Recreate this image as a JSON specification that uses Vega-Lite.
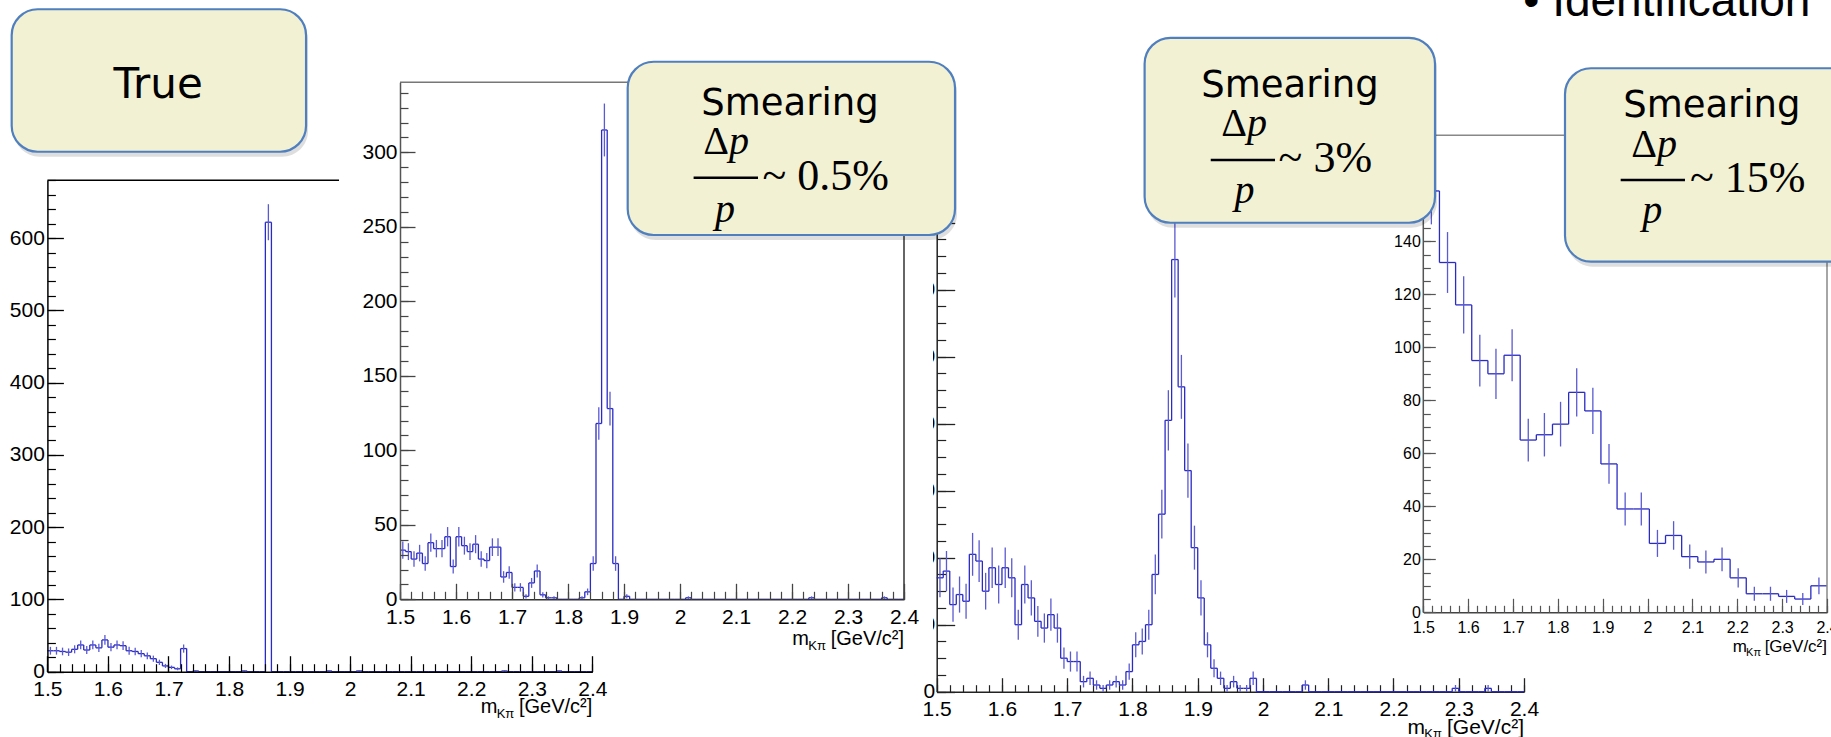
{
"$schema":"https://vega.github.io/schema/vega-lite/v6.json",
"width":1831,"height":737,"autosize":{"type":"none"},"padding":0,"background":"white",
"config":{"view":{"stroke":null},"axis":{"grid":false,"labelFlush":false,"labelOverlap":false,"labelBound":false,"labelFont":"Liberation Sans","labelColor":"#000"},"text":{"font":"Liberation Sans","color":"#000"}},
"datasets":{
"t":[
{"lo":1.5,"hi":1.51,"c":1.505,"n":29,"e":5.39},{"lo":1.51,"hi":1.52,"c":1.515,"n":29,"e":5.39},{"lo":1.52,"hi":1.53,"c":1.525,"n":28,"e":5.29},{"lo":1.53,"hi":1.54,"c":1.535,"n":27,"e":5.2},{"lo":1.54,"hi":1.55,"c":1.545,"n":31,"e":5.57},{"lo":1.55,"hi":1.56,"c":1.555,"n":37,"e":6.08},{"lo":1.56,"hi":1.57,"c":1.565,"n":30,"e":5.48},{"lo":1.57,"hi":1.58,"c":1.575,"n":37,"e":6.08},{"lo":1.58,"hi":1.59,"c":1.585,"n":33,"e":5.74},{"lo":1.59,"hi":1.6,"c":1.595,"n":44,"e":6.63},
{"lo":1.6,"hi":1.61,"c":1.605,"n":34,"e":5.83},{"lo":1.61,"hi":1.62,"c":1.615,"n":37,"e":6.08},{"lo":1.62,"hi":1.63,"c":1.625,"n":36,"e":6},{"lo":1.63,"hi":1.64,"c":1.635,"n":29,"e":5.39},{"lo":1.64,"hi":1.65,"c":1.645,"n":28,"e":5.29},{"lo":1.65,"hi":1.66,"c":1.655,"n":25,"e":5},{"lo":1.66,"hi":1.67,"c":1.665,"n":22,"e":4.69},{"lo":1.67,"hi":1.68,"c":1.675,"n":18,"e":4.24},{"lo":1.68,"hi":1.69,"c":1.685,"n":13,"e":3.61},{"lo":1.69,"hi":1.7,"c":1.695,"n":8,"e":2.83},
{"lo":1.7,"hi":1.71,"c":1.705,"n":6,"e":2.45},{"lo":1.71,"hi":1.72,"c":1.715,"n":4,"e":2},{"lo":1.72,"hi":1.73,"c":1.725,"n":32,"e":5.66},{"lo":1.73,"hi":1.74,"n":0},{"lo":1.74,"hi":1.75,"c":1.745,"n":1,"e":1},{"lo":1.75,"hi":1.76,"n":0},{"lo":1.76,"hi":1.77,"n":0},{"lo":1.77,"hi":1.78,"n":0},{"lo":1.78,"hi":1.79,"n":0},{"lo":1.79,"hi":1.8,"n":0},
{"lo":1.8,"hi":1.81,"n":0},{"lo":1.81,"hi":1.82,"n":0},{"lo":1.82,"hi":1.83,"c":1.825,"n":1,"e":1},{"lo":1.83,"hi":1.84,"n":0},{"lo":1.84,"hi":1.85,"n":0},{"lo":1.85,"hi":1.86,"n":0},{"lo":1.86,"hi":1.87,"c":1.865,"n":622,"e":24.94},{"lo":1.87,"hi":1.88,"n":0},{"lo":1.88,"hi":1.89,"n":0},{"lo":1.89,"hi":1.9,"n":0},
{"lo":1.9,"hi":1.91,"n":0},{"lo":1.91,"hi":1.92,"n":0},{"lo":1.92,"hi":1.93,"n":0},{"lo":1.93,"hi":1.94,"n":0},{"lo":1.94,"hi":1.95,"n":0},{"lo":1.95,"hi":1.96,"n":0},{"lo":1.96,"hi":1.97,"c":1.965,"n":1,"e":1},{"lo":1.97,"hi":1.98,"n":0},{"lo":1.98,"hi":1.99,"n":0},{"lo":1.99,"hi":2,"n":0},
{"lo":2,"hi":2.01,"n":0},{"lo":2.01,"hi":2.02,"c":2.015,"n":1,"e":1},{"lo":2.02,"hi":2.03,"n":0},{"lo":2.03,"hi":2.04,"n":0},{"lo":2.04,"hi":2.05,"n":0},{"lo":2.05,"hi":2.06,"n":0},{"lo":2.06,"hi":2.07,"n":0},{"lo":2.07,"hi":2.08,"n":0},{"lo":2.08,"hi":2.09,"n":0},{"lo":2.09,"hi":2.1,"n":0},
{"lo":2.1,"hi":2.11,"n":0},{"lo":2.11,"hi":2.12,"n":0},{"lo":2.12,"hi":2.13,"n":0},{"lo":2.13,"hi":2.14,"n":0},{"lo":2.14,"hi":2.15,"n":0},{"lo":2.15,"hi":2.16,"n":0},{"lo":2.16,"hi":2.17,"n":0},{"lo":2.17,"hi":2.18,"n":0},{"lo":2.18,"hi":2.19,"n":0},{"lo":2.19,"hi":2.2,"n":0},
{"lo":2.2,"hi":2.21,"n":0},{"lo":2.21,"hi":2.22,"n":0},{"lo":2.22,"hi":2.23,"n":0},{"lo":2.23,"hi":2.24,"n":0},{"lo":2.24,"hi":2.25,"n":0},{"lo":2.25,"hi":2.26,"c":2.255,"n":1,"e":1},{"lo":2.26,"hi":2.27,"n":0},{"lo":2.27,"hi":2.28,"n":0},{"lo":2.28,"hi":2.29,"n":0},{"lo":2.29,"hi":2.3,"n":0},
{"lo":2.3,"hi":2.31,"n":0},{"lo":2.31,"hi":2.32,"n":0},{"lo":2.32,"hi":2.33,"n":0},{"lo":2.33,"hi":2.34,"n":0},{"lo":2.34,"hi":2.35,"c":2.345,"n":1,"e":1},{"lo":2.35,"hi":2.36,"n":0},{"lo":2.36,"hi":2.37,"n":0},{"lo":2.37,"hi":2.38,"n":0},{"lo":2.38,"hi":2.39,"n":0},{"lo":2.39,"hi":2.4,"n":0}
],
"a":[
{"lo":1.5,"hi":1.51,"c":1.505,"n":33,"e":5.74},{"lo":1.51,"hi":1.52,"c":1.515,"n":32,"e":5.66},{"lo":1.52,"hi":1.53,"c":1.525,"n":27,"e":5.2},{"lo":1.53,"hi":1.54,"c":1.535,"n":31,"e":5.57},{"lo":1.54,"hi":1.55,"c":1.545,"n":24,"e":4.9},{"lo":1.55,"hi":1.56,"c":1.555,"n":38,"e":6.16},{"lo":1.56,"hi":1.57,"c":1.565,"n":34,"e":5.83},{"lo":1.57,"hi":1.58,"c":1.575,"n":34,"e":5.83},{"lo":1.58,"hi":1.59,"c":1.585,"n":42,"e":6.48},{"lo":1.59,"hi":1.6,"c":1.595,"n":22,"e":4.69},
{"lo":1.6,"hi":1.61,"c":1.605,"n":42,"e":6.48},{"lo":1.61,"hi":1.62,"c":1.615,"n":36,"e":6},{"lo":1.62,"hi":1.63,"c":1.625,"n":32,"e":5.66},{"lo":1.63,"hi":1.64,"c":1.635,"n":37,"e":6.08},{"lo":1.64,"hi":1.65,"c":1.645,"n":27,"e":5.2},{"lo":1.65,"hi":1.66,"c":1.655,"n":26,"e":5.1},{"lo":1.66,"hi":1.67,"c":1.665,"n":35,"e":5.92},{"lo":1.67,"hi":1.68,"c":1.675,"n":35,"e":5.92},{"lo":1.68,"hi":1.69,"c":1.685,"n":15,"e":3.87},{"lo":1.69,"hi":1.7,"c":1.695,"n":18,"e":4.24},
{"lo":1.7,"hi":1.71,"c":1.705,"n":8,"e":2.83},{"lo":1.71,"hi":1.72,"c":1.715,"n":8,"e":2.83},{"lo":1.72,"hi":1.73,"c":1.725,"n":2,"e":1.41},{"lo":1.73,"hi":1.74,"c":1.735,"n":11,"e":3.32},{"lo":1.74,"hi":1.75,"c":1.745,"n":19,"e":4.36},{"lo":1.75,"hi":1.76,"c":1.755,"n":3,"e":1.73},{"lo":1.76,"hi":1.77,"c":1.765,"n":1,"e":1},{"lo":1.77,"hi":1.78,"c":1.775,"n":1,"e":1},{"lo":1.78,"hi":1.79,"n":0},{"lo":1.79,"hi":1.8,"n":0},
{"lo":1.8,"hi":1.81,"n":0},{"lo":1.81,"hi":1.82,"n":0},{"lo":1.82,"hi":1.83,"c":1.825,"n":1,"e":1},{"lo":1.83,"hi":1.84,"c":1.835,"n":5,"e":2.24},{"lo":1.84,"hi":1.85,"c":1.845,"n":24,"e":4.9},{"lo":1.85,"hi":1.86,"c":1.855,"n":118,"e":10.86},{"lo":1.86,"hi":1.87,"c":1.865,"n":315,"e":17.75},{"lo":1.87,"hi":1.88,"c":1.875,"n":128,"e":11.31},{"lo":1.88,"hi":1.89,"c":1.885,"n":24,"e":4.9},{"lo":1.89,"hi":1.9,"n":0},
{"lo":1.9,"hi":1.91,"c":1.905,"n":2,"e":1.41},{"lo":1.91,"hi":1.92,"n":0},{"lo":1.92,"hi":1.93,"n":0},{"lo":1.93,"hi":1.94,"n":0},{"lo":1.94,"hi":1.95,"n":0},{"lo":1.95,"hi":1.96,"n":0},{"lo":1.96,"hi":1.97,"n":0},{"lo":1.97,"hi":1.98,"n":0},{"lo":1.98,"hi":1.99,"n":0},{"lo":1.99,"hi":2,"n":0},
{"lo":2,"hi":2.01,"n":0},{"lo":2.01,"hi":2.02,"c":2.015,"n":1,"e":1},{"lo":2.02,"hi":2.03,"n":0},{"lo":2.03,"hi":2.04,"n":0},{"lo":2.04,"hi":2.05,"n":0},{"lo":2.05,"hi":2.06,"n":0},{"lo":2.06,"hi":2.07,"n":0},{"lo":2.07,"hi":2.08,"n":0},{"lo":2.08,"hi":2.09,"n":0},{"lo":2.09,"hi":2.1,"n":0},
{"lo":2.1,"hi":2.11,"n":0},{"lo":2.11,"hi":2.12,"n":0},{"lo":2.12,"hi":2.13,"n":0},{"lo":2.13,"hi":2.14,"n":0},{"lo":2.14,"hi":2.15,"n":0},{"lo":2.15,"hi":2.16,"n":0},{"lo":2.16,"hi":2.17,"n":0},{"lo":2.17,"hi":2.18,"n":0},{"lo":2.18,"hi":2.19,"n":0},{"lo":2.19,"hi":2.2,"n":0},
{"lo":2.2,"hi":2.21,"n":0},{"lo":2.21,"hi":2.22,"n":0},{"lo":2.22,"hi":2.23,"n":0},{"lo":2.23,"hi":2.24,"c":2.235,"n":1,"e":1},{"lo":2.24,"hi":2.25,"n":0},{"lo":2.25,"hi":2.26,"n":0},{"lo":2.26,"hi":2.27,"n":0},{"lo":2.27,"hi":2.28,"n":0},{"lo":2.28,"hi":2.29,"n":0},{"lo":2.29,"hi":2.3,"n":0},
{"lo":2.3,"hi":2.31,"n":0},{"lo":2.31,"hi":2.32,"n":0},{"lo":2.32,"hi":2.33,"n":0},{"lo":2.33,"hi":2.34,"n":0},{"lo":2.34,"hi":2.35,"n":0},{"lo":2.35,"hi":2.36,"n":0},{"lo":2.36,"hi":2.37,"c":2.365,"n":1,"e":1},{"lo":2.37,"hi":2.38,"n":0},{"lo":2.38,"hi":2.39,"n":0},{"lo":2.39,"hi":2.4,"n":0}
],
"b":[
{"lo":1.5,"hi":1.51,"c":1.505,"n":34,"e":5.83},{"lo":1.51,"hi":1.52,"c":1.515,"n":36,"e":6},{"lo":1.52,"hi":1.53,"c":1.525,"n":26,"e":5.1},{"lo":1.53,"hi":1.54,"c":1.535,"n":29,"e":5.39},{"lo":1.54,"hi":1.55,"c":1.545,"n":27,"e":5.2},{"lo":1.55,"hi":1.56,"c":1.555,"n":41,"e":6.4},{"lo":1.56,"hi":1.57,"c":1.565,"n":39,"e":6.24},{"lo":1.57,"hi":1.58,"c":1.575,"n":30,"e":5.48},{"lo":1.58,"hi":1.59,"c":1.585,"n":37,"e":6.08},{"lo":1.59,"hi":1.6,"c":1.595,"n":32,"e":5.66},
{"lo":1.6,"hi":1.61,"c":1.605,"n":37,"e":6.08},{"lo":1.61,"hi":1.62,"c":1.615,"n":34,"e":5.83},{"lo":1.62,"hi":1.63,"c":1.625,"n":20,"e":4.47},{"lo":1.63,"hi":1.64,"c":1.635,"n":32,"e":5.66},{"lo":1.64,"hi":1.65,"c":1.645,"n":28,"e":5.29},{"lo":1.65,"hi":1.66,"c":1.655,"n":21,"e":4.58},{"lo":1.66,"hi":1.67,"c":1.665,"n":19,"e":4.36},{"lo":1.67,"hi":1.68,"c":1.675,"n":23,"e":4.8},{"lo":1.68,"hi":1.69,"c":1.685,"n":19,"e":4.36},{"lo":1.69,"hi":1.7,"c":1.695,"n":10,"e":3.16},
{"lo":1.7,"hi":1.71,"c":1.705,"n":9,"e":3},{"lo":1.71,"hi":1.72,"c":1.715,"n":9,"e":3},{"lo":1.72,"hi":1.73,"c":1.725,"n":3,"e":1.73},{"lo":1.73,"hi":1.74,"c":1.735,"n":4,"e":2},{"lo":1.74,"hi":1.75,"c":1.745,"n":2,"e":1.41},{"lo":1.75,"hi":1.76,"c":1.755,"n":1,"e":1},{"lo":1.76,"hi":1.77,"c":1.765,"n":2,"e":1.41},{"lo":1.77,"hi":1.78,"c":1.775,"n":3,"e":1.73},{"lo":1.78,"hi":1.79,"c":1.785,"n":2,"e":1.41},{"lo":1.79,"hi":1.8,"c":1.795,"n":6,"e":2.45},
{"lo":1.8,"hi":1.81,"c":1.805,"n":14,"e":3.74},{"lo":1.81,"hi":1.82,"c":1.815,"n":15,"e":3.87},{"lo":1.82,"hi":1.83,"c":1.825,"n":20,"e":4.47},{"lo":1.83,"hi":1.84,"c":1.835,"n":35,"e":5.92},{"lo":1.84,"hi":1.85,"c":1.845,"n":53,"e":7.28},{"lo":1.85,"hi":1.86,"c":1.855,"n":81,"e":9},{"lo":1.86,"hi":1.87,"c":1.865,"n":129,"e":11.36},{"lo":1.87,"hi":1.88,"c":1.875,"n":91,"e":9.54},{"lo":1.88,"hi":1.89,"c":1.885,"n":66,"e":8.12},{"lo":1.89,"hi":1.9,"c":1.895,"n":43,"e":6.56},
{"lo":1.9,"hi":1.91,"c":1.905,"n":28,"e":5.29},{"lo":1.91,"hi":1.92,"c":1.915,"n":14,"e":3.74},{"lo":1.92,"hi":1.93,"c":1.925,"n":7,"e":2.65},{"lo":1.93,"hi":1.94,"c":1.935,"n":4,"e":2},{"lo":1.94,"hi":1.95,"c":1.945,"n":1,"e":1},{"lo":1.95,"hi":1.96,"c":1.955,"n":3,"e":1.73},{"lo":1.96,"hi":1.97,"c":1.965,"n":1,"e":1},{"lo":1.97,"hi":1.98,"c":1.975,"n":1,"e":1},{"lo":1.98,"hi":1.99,"c":1.985,"n":4,"e":2},{"lo":1.99,"hi":2,"n":0},
{"lo":2,"hi":2.01,"n":0},{"lo":2.01,"hi":2.02,"n":0},{"lo":2.02,"hi":2.03,"n":0},{"lo":2.03,"hi":2.04,"n":0},{"lo":2.04,"hi":2.05,"n":0},{"lo":2.05,"hi":2.06,"n":0},{"lo":2.06,"hi":2.07,"c":2.065,"n":2,"e":1.41},{"lo":2.07,"hi":2.08,"n":0},{"lo":2.08,"hi":2.09,"n":0},{"lo":2.09,"hi":2.1,"n":0},
{"lo":2.1,"hi":2.11,"n":0},{"lo":2.11,"hi":2.12,"n":0},{"lo":2.12,"hi":2.13,"n":0},{"lo":2.13,"hi":2.14,"n":0},{"lo":2.14,"hi":2.15,"n":0},{"lo":2.15,"hi":2.16,"n":0},{"lo":2.16,"hi":2.17,"n":0},{"lo":2.17,"hi":2.18,"n":0},{"lo":2.18,"hi":2.19,"n":0},{"lo":2.19,"hi":2.2,"n":0},
{"lo":2.2,"hi":2.21,"n":0},{"lo":2.21,"hi":2.22,"n":0},{"lo":2.22,"hi":2.23,"n":0},{"lo":2.23,"hi":2.24,"n":0},{"lo":2.24,"hi":2.25,"n":0},{"lo":2.25,"hi":2.26,"n":0},{"lo":2.26,"hi":2.27,"n":0},{"lo":2.27,"hi":2.28,"n":0},{"lo":2.28,"hi":2.29,"n":0},{"lo":2.29,"hi":2.3,"c":2.295,"n":1,"e":1},
{"lo":2.3,"hi":2.31,"n":0},{"lo":2.31,"hi":2.32,"n":0},{"lo":2.32,"hi":2.33,"n":0},{"lo":2.33,"hi":2.34,"n":0},{"lo":2.34,"hi":2.35,"c":2.345,"n":1,"e":1},{"lo":2.35,"hi":2.36,"n":0},{"lo":2.36,"hi":2.37,"n":0},{"lo":2.37,"hi":2.38,"n":0},{"lo":2.38,"hi":2.39,"n":0},{"lo":2.39,"hi":2.4,"n":0}
],
"c":[
{"lo":1.5,"hi":1.536,"c":1.518,"n":159,"e":12.61},{"lo":1.536,"hi":1.572,"c":1.554,"n":132,"e":11.49},{"lo":1.572,"hi":1.608,"c":1.59,"n":116,"e":10.77},{"lo":1.608,"hi":1.644,"c":1.626,"n":95,"e":9.75},{"lo":1.644,"hi":1.68,"c":1.662,"n":90,"e":9.49},{"lo":1.68,"hi":1.716,"c":1.698,"n":97,"e":9.85},{"lo":1.716,"hi":1.752,"c":1.734,"n":65,"e":8.06},{"lo":1.752,"hi":1.788,"c":1.77,"n":67,"e":8.19},{"lo":1.788,"hi":1.824,"c":1.806,"n":71,"e":8.43},{"lo":1.824,"hi":1.86,"c":1.842,"n":83,"e":9.11},
{"lo":1.86,"hi":1.896,"c":1.878,"n":76,"e":8.72},{"lo":1.896,"hi":1.932,"c":1.914,"n":56,"e":7.48},{"lo":1.932,"hi":1.968,"c":1.95,"n":39,"e":6.24},{"lo":1.968,"hi":2.004,"c":1.986,"n":39,"e":6.24},{"lo":2.004,"hi":2.04,"c":2.022,"n":26,"e":5.1},{"lo":2.04,"hi":2.076,"c":2.058,"n":29,"e":5.39},{"lo":2.076,"hi":2.112,"c":2.094,"n":21,"e":4.58},{"lo":2.112,"hi":2.148,"c":2.13,"n":19,"e":4.36},{"lo":2.148,"hi":2.184,"c":2.166,"n":20,"e":4.47},{"lo":2.184,"hi":2.22,"c":2.202,"n":13,"e":3.61},
{"lo":2.22,"hi":2.256,"c":2.238,"n":7,"e":2.65},{"lo":2.256,"hi":2.292,"c":2.274,"n":7,"e":2.65},{"lo":2.292,"hi":2.328,"c":2.31,"n":6,"e":2.45},{"lo":2.328,"hi":2.364,"c":2.346,"n":5,"e":2.24},{"lo":2.364,"hi":2.4,"c":2.382,"n":10,"e":3.16}
]
},
"layer":[
{
"data":{"name":"b"},
"resolve":{"axis":{"x":"independent","y":"independent"}},
"layer":[
{"mark":{"type":"rule","color":"#2a2ac4","strokeWidth":1.3},
 "encoding":{
  "x":{"field":"lo","type":"quantitative","scale":{"domain":[1.5,2.4],"range":[936.7,1524],"nice":false,"zero":false},
   "axis":{"orient":"bottom","offset":-45.3,"values":[1.5,1.6,1.7,1.8,1.9,2,2.1,2.2,2.3,2.4],"format":"~g","title":null,"tickSize":-14,"tickWidth":1.3,"tickColor":"#222","domainColor":"#222","domainWidth":1.5,"labelFontSize":21,"labelPadding":21,"zindex":0}},
  "x2":{"field":"hi"},
  "y":{"field":"n","type":"quantitative","scale":{"domain":[0,140],"range":[691.7,222.7],"nice":false,"zero":false},
   "axis":{"orient":"left","offset":-936.7,"values":[0,20,40,60,80,100,120,140],"format":"d","title":null,"tickSize":-18,"tickWidth":1.3,"tickColor":"#222","domainColor":"#222","domainWidth":1.5,"labelFontSize":21,"labelPadding":20,"zindex":0}}}},
{"transform":[{"window":[{"op":"lag","field":"n","as":"p"}],"sort":[{"field":"lo"}]}],
 "mark":{"type":"rule","color":"#2a2ac4","strokeWidth":1.3},
 "encoding":{
  "x":{"field":"lo","type":"quantitative","scale":{"domain":[1.5,2.4],"range":[936.7,1524],"nice":false,"zero":false},
   "axis":{"orient":"bottom","offset":-45.3,"values":[1.5,1.52,1.54,1.56,1.58,1.6,1.62,1.64,1.66,1.68,1.7,1.72,1.74,1.76,1.78,1.8,1.82,1.84,1.86,1.88,1.9,1.92,1.94,1.96,1.98,2,2.02,2.04,2.06,2.08,2.1,2.12,2.14,2.16,2.18,2.2,2.22,2.24,2.26,2.28,2.3,2.32,2.34,2.36,2.38,2.4],"labels":false,"domain":false,"title":null,"tickSize":-7,"tickWidth":1.2,"tickColor":"#222","zindex":0}},
  "y":{"field":"p","type":"quantitative","scale":{"domain":[0,140],"range":[691.7,222.7],"nice":false,"zero":false},
   "axis":{"orient":"left","offset":-936.7,"values":[0,5,10,15,20,25,30,35,40,45,50,55,60,65,70,75,80,85,90,95,100,105,110,115,120,125,130,135,140],"labels":false,"domain":false,"title":null,"tickSize":-9,"tickWidth":1.2,"tickColor":"#222","zindex":0}},
  "y2":{"field":"n"}}},
{"transform":[{"filter":"datum.n > 0"}],
 "mark":{"type":"errorbar","color":"#5a5ad2","thickness":1.3},
 "encoding":{
  "x":{"field":"c","type":"quantitative","scale":{"domain":[1.5,2.4],"range":[936.7,1524],"nice":false,"zero":false},"axis":null},
  "y":{"field":"n","type":"quantitative","scale":{"domain":[0,140],"range":[691.7,222.7],"nice":false,"zero":false},"axis":null},
  "yError":{"field":"e"}}},
{"data":{"values":[{}]},
 "mark":{"type":"text","text":"[GeV/c²]","align":"right","baseline":"alphabetic","fontSize":21},
 "encoding":{"x":{"datum":2.4,"type":"quantitative","scale":{"domain":[1.5,2.4],"range":[936.7,1524],"nice":false,"zero":false},"axis":null},
  "y":{"datum":-12.6,"type":"quantitative","scale":{"domain":[0,140],"range":[691.7,222.7],"nice":false,"zero":false},"axis":null}}},
{"data":{"values":[{}]},
 "mark":{"type":"text","text":"Kπ","align":"right","baseline":"alphabetic","fontSize":13,"dx":-82,"dy":4},
 "encoding":{"x":{"datum":2.4,"type":"quantitative","scale":{"domain":[1.5,2.4],"range":[936.7,1524],"nice":false,"zero":false},"axis":null},
  "y":{"datum":-12.6,"type":"quantitative","scale":{"domain":[0,140],"range":[691.7,222.7],"nice":false,"zero":false},"axis":null}}},
{"data":{"values":[{}]},
 "mark":{"type":"text","text":"m","align":"right","baseline":"alphabetic","fontSize":21,"dx":-99},
 "encoding":{"x":{"datum":2.4,"type":"quantitative","scale":{"domain":[1.5,2.4],"range":[936.7,1524],"nice":false,"zero":false},"axis":null},
  "y":{"datum":-12.6,"type":"quantitative","scale":{"domain":[0,140],"range":[691.7,222.7],"nice":false,"zero":false},"axis":null}}}
]
},
{
"data":{"name":"c"},
"resolve":{"axis":{"x":"independent","y":"independent"}},
"layer":[
{"data":{"values":[{}]},
 "mark":{"type":"rect","fill":"white","stroke":null},
 "encoding":{"x":{"datum":1.4216,"type":"quantitative","scale":{"domain":[1.5,2.4],"range":[1423.3,1827],"nice":false,"zero":false},"axis":null},"x2":{"datum":2.47},
  "y":{"datum":-18.8,"type":"quantitative","scale":{"domain":[0,180],"range":[612.3,135.3],"nice":false,"zero":false},"axis":null},"y2":{"datum":200}}},
{"mark":{"type":"rule","color":"#2a2ac4","strokeWidth":1.3},
 "encoding":{
  "x":{"field":"lo","type":"quantitative","scale":{"domain":[1.5,2.4],"range":[1423.3,1827],"nice":false,"zero":false},
   "axis":{"orient":"bottom","offset":-124.7,"values":[1.5,1.6,1.7,1.8,1.9,2,2.1,2.2,2.3,2.4],"format":"~g","title":null,"tickSize":-14,"tickWidth":1.2,"tickColor":"#555","domainColor":"#444","domainWidth":1.5,"labelFontSize":16,"labelPadding":21,"zindex":1}},
  "x2":{"field":"hi"},
  "y":{"field":"n","type":"quantitative","scale":{"domain":[0,180],"range":[612.3,135.3],"nice":false,"zero":false},
   "axis":{"orient":"left","offset":-1423.3,"values":[0,20,40,60,80,100,120,140],"format":"d","title":null,"tickSize":-12,"tickWidth":1.2,"tickColor":"#555","domain":false,"labelFontSize":16,"labelPadding":15,"zindex":1}}}},
{"transform":[{"window":[{"op":"lag","field":"n","as":"p"}],"sort":[{"field":"lo"}]}],
 "mark":{"type":"rule","color":"#2a2ac4","strokeWidth":1.3},
 "encoding":{
  "x":{"field":"lo","type":"quantitative","scale":{"domain":[1.5,2.4],"range":[1423.3,1827],"nice":false,"zero":false},
   "axis":{"orient":"bottom","offset":-124.7,"values":[1.5,1.52,1.54,1.56,1.58,1.6,1.62,1.64,1.66,1.68,1.7,1.72,1.74,1.76,1.78,1.8,1.82,1.84,1.86,1.88,1.9,1.92,1.94,1.96,1.98,2,2.02,2.04,2.06,2.08,2.1,2.12,2.14,2.16,2.18,2.2,2.22,2.24,2.26,2.28,2.3,2.32,2.34,2.36,2.38,2.4],"labels":false,"domain":false,"title":null,"tickSize":-7,"tickWidth":1.2,"tickColor":"#555","zindex":1}},
  "y":{"field":"p","type":"quantitative","scale":{"domain":[0,180],"range":[612.3,135.3],"nice":false,"zero":false},
   "axis":{"orient":"left","offset":-1423.3,"values":[0,5,10,15,20,25,30,35,40,45,50,55,60,65,70,75,80,85,90,95,100,105,110,115,120,125,130,135,140,145],"labels":false,"domain":false,"title":null,"tickSize":-7,"tickWidth":1.2,"tickColor":"#555","zindex":1}},
  "y2":{"field":"n"}}},
{"mark":{"type":"errorbar","color":"#5a5ad2","thickness":1.3},
 "encoding":{
  "x":{"field":"c","type":"quantitative","scale":{"domain":[1.5,2.4],"range":[1423.3,1827],"nice":false,"zero":false},"axis":null},
  "y":{"field":"n","type":"quantitative","scale":{"domain":[0,180],"range":[612.3,135.3],"nice":false,"zero":false},"axis":null},
  "yError":{"field":"e"}}},
{"data":{"values":[{}]},
 "mark":{"type":"rule","color":"#555","strokeWidth":1.5},
 "encoding":{"x":{"datum":1.5,"type":"quantitative","scale":{"domain":[1.5,2.4],"range":[1423.3,1827],"nice":false,"zero":false},"axis":null},
  "y":{"datum":0,"type":"quantitative","scale":{"domain":[0,180],"range":[612.3,135.3],"nice":false,"zero":false},"axis":null},"y2":{"datum":180}}},
{"data":{"values":[{}]},
 "mark":{"type":"rule","color":"#888","strokeWidth":1.5},
 "encoding":{"x":{"datum":2.4,"type":"quantitative","scale":{"domain":[1.5,2.4],"range":[1423.3,1827],"nice":false,"zero":false},"axis":null},
  "y":{"datum":0,"type":"quantitative","scale":{"domain":[0,180],"range":[612.3,135.3],"nice":false,"zero":false},"axis":null},"y2":{"datum":180}}},
{"data":{"values":[{}]},
 "mark":{"type":"rule","color":"#888","strokeWidth":1.5},
 "encoding":{"x":{"datum":1.5,"type":"quantitative","scale":{"domain":[1.5,2.4],"range":[1423.3,1827],"nice":false,"zero":false},"axis":null},"x2":{"datum":2.4},
  "y":{"datum":180,"type":"quantitative","scale":{"domain":[0,180],"range":[612.3,135.3],"nice":false,"zero":false},"axis":null}}},
{"data":{"values":[{}]},
 "mark":{"type":"text","text":"[GeV/c²]","align":"right","baseline":"alphabetic","fontSize":17},
 "encoding":{"x":{"datum":2.4,"type":"quantitative","scale":{"domain":[1.5,2.4],"range":[1423.3,1827],"nice":false,"zero":false},"axis":null},
  "y":{"datum":-14.9,"type":"quantitative","scale":{"domain":[0,180],"range":[612.3,135.3],"nice":false,"zero":false},"axis":null}}},
{"data":{"values":[{}]},
 "mark":{"type":"text","text":"Kπ","align":"right","baseline":"alphabetic","fontSize":11,"dx":-66,"dy":4},
 "encoding":{"x":{"datum":2.4,"type":"quantitative","scale":{"domain":[1.5,2.4],"range":[1423.3,1827],"nice":false,"zero":false},"axis":null},
  "y":{"datum":-14.9,"type":"quantitative","scale":{"domain":[0,180],"range":[612.3,135.3],"nice":false,"zero":false},"axis":null}}},
{"data":{"values":[{}]},
 "mark":{"type":"text","text":"m","align":"right","baseline":"alphabetic","fontSize":17,"dx":-80},
 "encoding":{"x":{"datum":2.4,"type":"quantitative","scale":{"domain":[1.5,2.4],"range":[1423.3,1827],"nice":false,"zero":false},"axis":null},
  "y":{"datum":-14.9,"type":"quantitative","scale":{"domain":[0,180],"range":[612.3,135.3],"nice":false,"zero":false},"axis":null}}},
{"data":{"values":[{}]},
 "mark":{"type":"text","text":"• Identification","align":"left","baseline":"alphabetic","fontSize":46},
 "encoding":{"x":{"datum":1.7229,"type":"quantitative","scale":{"domain":[1.5,2.4],"range":[1423.3,1827],"nice":false,"zero":false},"axis":null},
  "y":{"datum":225,"type":"quantitative","scale":{"domain":[0,180],"range":[612.3,135.3],"nice":false,"zero":false},"axis":null}}},
{"data":{"values":[{}]},
 "mark":{"type":"rect","fill":"#000","opacity":0.13,"cornerRadius":26,"xOffset":2,"x2Offset":2,"yOffset":5,"y2Offset":5},
 "encoding":{"x":{"datum":0.8787,"type":"quantitative","scale":{"domain":[1.5,2.4],"range":[1423.3,1827],"nice":false,"zero":false},"axis":null},"x2":{"datum":1.5261},
  "y":{"datum":216.8,"type":"quantitative","scale":{"domain":[0,180],"range":[612.3,135.3],"nice":false,"zero":false},"axis":null},"y2":{"datum":147.0}}},
{"data":{"values":[{}]},
 "mark":{"type":"rect","fill":"#F2F1D4","stroke":"#4F7FBE","strokeWidth":2.2,"cornerRadius":26},
 "encoding":{"x":{"datum":0.8787,"type":"quantitative","scale":{"domain":[1.5,2.4],"range":[1423.3,1827],"nice":false,"zero":false},"axis":null},"x2":{"datum":1.5261},
  "y":{"datum":216.8,"type":"quantitative","scale":{"domain":[0,180],"range":[612.3,135.3],"nice":false,"zero":false},"axis":null},"y2":{"datum":147.0}}},
{"data":{"values":[{}]},
 "mark":{"type":"rect","fill":"#000","opacity":0.13,"cornerRadius":26,"xOffset":2,"x2Offset":2,"yOffset":5,"y2Offset":5},
 "encoding":{"x":{"datum":1.8159,"type":"quantitative","scale":{"domain":[1.5,2.4],"range":[1423.3,1827],"nice":false,"zero":false},"axis":null},"x2":{"datum":2.4735},
  "y":{"datum":205.3,"type":"quantitative","scale":{"domain":[0,180],"range":[612.3,135.3],"nice":false,"zero":false},"axis":null},"y2":{"datum":132.3}}},
{"data":{"values":[{}]},
 "mark":{"type":"rect","fill":"#F2F1D4","stroke":"#4F7FBE","strokeWidth":2.2,"cornerRadius":26},
 "encoding":{"x":{"datum":1.8159,"type":"quantitative","scale":{"domain":[1.5,2.4],"range":[1423.3,1827],"nice":false,"zero":false},"axis":null},"x2":{"datum":2.4735},
  "y":{"datum":205.3,"type":"quantitative","scale":{"domain":[0,180],"range":[612.3,135.3],"nice":false,"zero":false},"axis":null},"y2":{"datum":132.3}}},
{"data":{"values":[{"t":"Smearing","x":1.2029,"y":194.6},{"t":"Smearing","x":2.1433,"y":187.0}]},
 "mark":{"type":"text","align":"center","baseline":"alphabetic","fontSize":37,"font":"DejaVu Sans"},
 "encoding":{"text":{"field":"t"},"x":{"field":"x","type":"quantitative","scale":{"domain":[1.5,2.4],"range":[1423.3,1827],"nice":false,"zero":false},"axis":null},
  "y":{"field":"y","type":"quantitative","scale":{"domain":[0,180],"range":[612.3,135.3],"nice":false,"zero":false},"axis":null}}},
{"data":{"values":[{"x":1.1003,"y":179.6},{"x":2.0143,"y":172.0}]},
 "mark":{"type":"text","text":"Δ","align":"right","baseline":"alphabetic","fontSize":40,"font":"Liberation Serif","dx":3},
 "encoding":{"x":{"field":"x","type":"quantitative","scale":{"domain":[1.5,2.4],"range":[1423.3,1827],"nice":false,"zero":false},"axis":null},
  "y":{"field":"y","type":"quantitative","scale":{"domain":[0,180],"range":[612.3,135.3],"nice":false,"zero":false},"axis":null}}},
{"data":{"values":[{"x":1.1003,"y":179.6},{"x":2.0143,"y":172.0}]},
 "mark":{"type":"text","text":"p","align":"left","baseline":"alphabetic","fontSize":40,"font":"Liberation Serif","fontStyle":"italic","dx":3},
 "encoding":{"x":{"field":"x","type":"quantitative","scale":{"domain":[1.5,2.4],"range":[1423.3,1827],"nice":false,"zero":false},"axis":null},
  "y":{"field":"y","type":"quantitative","scale":{"domain":[0,180],"range":[612.3,135.3],"nice":false,"zero":false},"axis":null}}},
{"data":{"values":[{"x":1.1013,"y":154.3},{"x":2.0105,"y":146.8}]},
 "mark":{"type":"text","text":"p","align":"center","baseline":"alphabetic","fontSize":40,"font":"Liberation Serif","fontStyle":"italic"},
 "encoding":{"x":{"field":"x","type":"quantitative","scale":{"domain":[1.5,2.4],"range":[1423.3,1827],"nice":false,"zero":false},"axis":null},
  "y":{"field":"y","type":"quantitative","scale":{"domain":[0,180],"range":[612.3,135.3],"nice":false,"zero":false},"axis":null}}},
{"data":{"values":[{"t":"~ 3%","x":1.1774,"y":166.3},{"t":"~ 15%","x":2.0945,"y":158.7}]},
 "mark":{"type":"text","align":"left","baseline":"alphabetic","fontSize":44,"font":"Liberation Serif"},
 "encoding":{"text":{"field":"t"},"x":{"field":"x","type":"quantitative","scale":{"domain":[1.5,2.4],"range":[1423.3,1827],"nice":false,"zero":false},"axis":null},
  "y":{"field":"y","type":"quantitative","scale":{"domain":[0,180],"range":[612.3,135.3],"nice":false,"zero":false},"axis":null}}},
{"data":{"values":[{"x":1.0261,"x2":1.1694,"y":170.7},{"x":1.94,"x2":2.0834,"y":163.1}]},
 "mark":{"type":"rule","color":"#000","strokeWidth":2.5},
 "encoding":{"x":{"field":"x","type":"quantitative","scale":{"domain":[1.5,2.4],"range":[1423.3,1827],"nice":false,"zero":false},"axis":null},"x2":{"field":"x2"},
  "y":{"field":"y","type":"quantitative","scale":{"domain":[0,180],"range":[612.3,135.3],"nice":false,"zero":false},"axis":null}}}
]
},
{
"data":{"name":"t"},
"resolve":{"axis":{"x":"independent","y":"independent"}},
"layer":[
{"mark":{"type":"rule","color":"#2a2ac4","strokeWidth":1.3},
 "encoding":{
  "x":{"field":"lo","type":"quantitative","scale":{"domain":[1.5,2.4],"range":[47.4,592.3],"nice":false,"zero":false},
   "axis":{"orient":"bottom","offset":-65.3,"values":[1.5,1.6,1.7,1.8,1.9,2,2.1,2.2,2.3,2.4],"format":"~g","title":null,"tickSize":-16,"tickWidth":1.3,"tickColor":"#000","domainColor":"#000","domainWidth":1.5,"labelFontSize":21,"labelPadding":23,"zindex":1}},
  "x2":{"field":"hi"},
  "y":{"field":"n","type":"quantitative","scale":{"domain":[0,680],"range":[671.7,180.3],"nice":false,"zero":false},
   "axis":{"orient":"left","offset":-47.4,"values":[0,100,200,300,400,500,600],"format":"d","title":null,"tickSize":-16,"tickWidth":1.3,"tickColor":"#000","domainColor":"#000","domainWidth":1.5,"labelFontSize":21,"labelPadding":19,"zindex":1}}}},
{"transform":[{"window":[{"op":"lag","field":"n","as":"p"}],"sort":[{"field":"lo"}]}],
 "mark":{"type":"rule","color":"#2a2ac4","strokeWidth":1.3},
 "encoding":{
  "x":{"field":"lo","type":"quantitative","scale":{"domain":[1.5,2.4],"range":[47.4,592.3],"nice":false,"zero":false},
   "axis":{"orient":"bottom","offset":-65.3,"values":[1.5,1.52,1.54,1.56,1.58,1.6,1.62,1.64,1.66,1.68,1.7,1.72,1.74,1.76,1.78,1.8,1.82,1.84,1.86,1.88,1.9,1.92,1.94,1.96,1.98,2,2.02,2.04,2.06,2.08,2.1,2.12,2.14,2.16,2.18,2.2,2.22,2.24,2.26,2.28,2.3,2.32,2.34,2.36,2.38,2.4],"labels":false,"domain":false,"title":null,"tickSize":-8,"tickWidth":1.2,"tickColor":"#000","zindex":1}},
  "y":{"field":"p","type":"quantitative","scale":{"domain":[0,680],"range":[671.7,180.3],"nice":false,"zero":false},
   "axis":{"orient":"left","offset":-47.4,"values":[0,20,40,60,80,100,120,140,160,180,200,220,240,260,280,300,320,340,360,380,400,420,440,460,480,500,520,540,560,580,600,620,640,660,680],"labels":false,"domain":false,"title":null,"tickSize":-8,"tickWidth":1.2,"tickColor":"#000","zindex":1}},
  "y2":{"field":"n"}}},
{"transform":[{"filter":"datum.n > 0"}],
 "mark":{"type":"errorbar","color":"#5a5ad2","thickness":1.3},
 "encoding":{
  "x":{"field":"c","type":"quantitative","scale":{"domain":[1.5,2.4],"range":[47.4,592.3],"nice":false,"zero":false},"axis":null},
  "y":{"field":"n","type":"quantitative","scale":{"domain":[0,680],"range":[671.7,180.3],"nice":false,"zero":false},"axis":null},
  "yError":{"field":"e"}}},
{"data":{"values":[{}]},
 "mark":{"type":"rule","color":"#000","strokeWidth":1.5},
 "encoding":{"x":{"datum":1.5,"type":"quantitative","scale":{"domain":[1.5,2.4],"range":[47.4,592.3],"nice":false,"zero":false},"axis":null},"x2":{"datum":2.4},
  "y":{"datum":680,"type":"quantitative","scale":{"domain":[0,680],"range":[671.7,180.3],"nice":false,"zero":false},"axis":null}}},
{"data":{"values":[{}]},
 "mark":{"type":"text","text":"[GeV/c²]","align":"right","baseline":"alphabetic","fontSize":20},
 "encoding":{"x":{"datum":2.4,"type":"quantitative","scale":{"domain":[1.5,2.4],"range":[47.4,592.3],"nice":false,"zero":false},"axis":null},
  "y":{"datum":-57.2,"type":"quantitative","scale":{"domain":[0,680],"range":[671.7,180.3],"nice":false,"zero":false},"axis":null}}},
{"data":{"values":[{}]},
 "mark":{"type":"text","text":"Kπ","align":"right","baseline":"alphabetic","fontSize":13,"dx":-78,"dy":5},
 "encoding":{"x":{"datum":2.4,"type":"quantitative","scale":{"domain":[1.5,2.4],"range":[47.4,592.3],"nice":false,"zero":false},"axis":null},
  "y":{"datum":-57.2,"type":"quantitative","scale":{"domain":[0,680],"range":[671.7,180.3],"nice":false,"zero":false},"axis":null}}},
{"data":{"values":[{}]},
 "mark":{"type":"text","text":"m","align":"right","baseline":"alphabetic","fontSize":20,"dx":-95},
 "encoding":{"x":{"datum":2.4,"type":"quantitative","scale":{"domain":[1.5,2.4],"range":[47.4,592.3],"nice":false,"zero":false},"axis":null},
  "y":{"datum":-57.2,"type":"quantitative","scale":{"domain":[0,680],"range":[671.7,180.3],"nice":false,"zero":false},"axis":null}}},
{"data":{"values":[{}]},
 "mark":{"type":"rect","fill":"#000","opacity":0.13,"cornerRadius":26,"xOffset":2,"x2Offset":2,"yOffset":5,"y2Offset":5},
 "encoding":{"x":{"datum":1.441,"type":"quantitative","scale":{"domain":[1.5,2.4],"range":[47.4,592.3],"nice":false,"zero":false},"axis":null},"x2":{"datum":1.9272},
  "y":{"datum":916.7,"type":"quantitative","scale":{"domain":[0,680],"range":[671.7,180.3],"nice":false,"zero":false},"axis":null},"y2":{"datum":719.5}}},
{"data":{"values":[{}]},
 "mark":{"type":"rect","fill":"#F2F1D4","stroke":"#4F7FBE","strokeWidth":2.2,"cornerRadius":26},
 "encoding":{"x":{"datum":1.441,"type":"quantitative","scale":{"domain":[1.5,2.4],"range":[47.4,592.3],"nice":false,"zero":false},"axis":null},"x2":{"datum":1.9272},
  "y":{"datum":916.7,"type":"quantitative","scale":{"domain":[0,680],"range":[671.7,180.3],"nice":false,"zero":false},"axis":null},"y2":{"datum":719.5}}},
{"data":{"values":[{}]},
 "mark":{"type":"text","text":"True","align":"center","baseline":"alphabetic","fontSize":42,"font":"DejaVu Sans"},
 "encoding":{"x":{"datum":1.6829,"type":"quantitative","scale":{"domain":[1.5,2.4],"range":[47.4,592.3],"nice":false,"zero":false},"axis":null},
  "y":{"datum":793.5,"type":"quantitative","scale":{"domain":[0,680],"range":[671.7,180.3],"nice":false,"zero":false},"axis":null}}}
]
},
{
"data":{"name":"a"},
"resolve":{"axis":{"x":"independent","y":"independent"}},
"layer":[
{"data":{"values":[{}]},
 "mark":{"type":"rect","fill":"white","stroke":null},
 "encoding":{"x":{"datum":1.3911,"type":"quantitative","scale":{"domain":[1.5,2.4],"range":[400,904],"nice":false,"zero":false},"axis":null},"x2":{"datum":2.4518},
  "y":{"datum":-35,"type":"quantitative","scale":{"domain":[0,347],"range":[599.3,82.3],"nice":false,"zero":false},"axis":null},"y2":{"datum":355}}},
{"mark":{"type":"rule","color":"#2a2ac4","strokeWidth":1.3},
 "encoding":{
  "x":{"field":"lo","type":"quantitative","scale":{"domain":[1.5,2.4],"range":[400,904],"nice":false,"zero":false},
   "axis":{"orient":"bottom","offset":-137.7,"values":[1.5,1.6,1.7,1.8,1.9,2,2.1,2.2,2.3,2.4],"format":"~g","title":null,"tickSize":-16,"tickWidth":1.3,"tickColor":"#444","domainColor":"#333","domainWidth":1.5,"labelFontSize":21,"labelPadding":23,"zindex":1}},
  "x2":{"field":"hi"},
  "y":{"field":"n","type":"quantitative","scale":{"domain":[0,347],"range":[599.3,82.3],"nice":false,"zero":false},
   "axis":{"orient":"left","offset":-400,"values":[0,50,100,150,200,250,300],"format":"d","title":null,"tickSize":-15,"tickWidth":1.3,"tickColor":"#444","domainColor":"#555","domainWidth":1.5,"labelFontSize":21,"labelPadding":18,"zindex":1}}}},
{"transform":[{"window":[{"op":"lag","field":"n","as":"p"}],"sort":[{"field":"lo"}]}],
 "mark":{"type":"rule","color":"#2a2ac4","strokeWidth":1.3},
 "encoding":{
  "x":{"field":"lo","type":"quantitative","scale":{"domain":[1.5,2.4],"range":[400,904],"nice":false,"zero":false},
   "axis":{"orient":"bottom","offset":-137.7,"values":[1.5,1.52,1.54,1.56,1.58,1.6,1.62,1.64,1.66,1.68,1.7,1.72,1.74,1.76,1.78,1.8,1.82,1.84,1.86,1.88,1.9,1.92,1.94,1.96,1.98,2,2.02,2.04,2.06,2.08,2.1,2.12,2.14,2.16,2.18,2.2,2.22,2.24,2.26,2.28,2.3,2.32,2.34,2.36,2.38,2.4],"labels":false,"domain":false,"title":null,"tickSize":-8,"tickWidth":1.2,"tickColor":"#444","zindex":1}},
  "y":{"field":"p","type":"quantitative","scale":{"domain":[0,347],"range":[599.3,82.3],"nice":false,"zero":false},
   "axis":{"orient":"left","offset":-400,"values":[0,10,20,30,40,50,60,70,80,90,100,110,120,130,140,150,160,170,180,190,200,210,220,230,240,250,260,270,280,290,300,310,320,330,340],"labels":false,"domain":false,"title":null,"tickSize":-8,"tickWidth":1.2,"tickColor":"#444","zindex":1}},
  "y2":{"field":"n"}}},
{"transform":[{"filter":"datum.n > 0"}],
 "mark":{"type":"errorbar","color":"#5a5ad2","thickness":1.3},
 "encoding":{
  "x":{"field":"c","type":"quantitative","scale":{"domain":[1.5,2.4],"range":[400,904],"nice":false,"zero":false},"axis":null},
  "y":{"field":"n","type":"quantitative","scale":{"domain":[0,347],"range":[599.3,82.3],"nice":false,"zero":false},"axis":null},
  "yError":{"field":"e"}}},
{"data":{"values":[{}]},
 "mark":{"type":"rule","color":"#777","strokeWidth":1.5},
 "encoding":{"x":{"datum":1.5,"type":"quantitative","scale":{"domain":[1.5,2.4],"range":[400,904],"nice":false,"zero":false},"axis":null},"x2":{"datum":2.4},
  "y":{"datum":347,"type":"quantitative","scale":{"domain":[0,347],"range":[599.3,82.3],"nice":false,"zero":false},"axis":null}}},
{"data":{"values":[{}]},
 "mark":{"type":"rule","color":"#333","strokeWidth":1.5},
 "encoding":{"x":{"datum":2.4,"type":"quantitative","scale":{"domain":[1.5,2.4],"range":[400,904],"nice":false,"zero":false},"axis":null},
  "y":{"datum":0,"type":"quantitative","scale":{"domain":[0,347],"range":[599.3,82.3],"nice":false,"zero":false},"axis":null},"y2":{"datum":347}}},
{"data":{"values":[{}]},
 "mark":{"type":"text","text":"[GeV/c²]","align":"right","baseline":"alphabetic","fontSize":20},
 "encoding":{"x":{"datum":2.4,"type":"quantitative","scale":{"domain":[1.5,2.4],"range":[400,904],"nice":false,"zero":false},"axis":null},
  "y":{"datum":-30.7,"type":"quantitative","scale":{"domain":[0,347],"range":[599.3,82.3],"nice":false,"zero":false},"axis":null}}},
{"data":{"values":[{}]},
 "mark":{"type":"text","text":"Kπ","align":"right","baseline":"alphabetic","fontSize":13,"dx":-78,"dy":5},
 "encoding":{"x":{"datum":2.4,"type":"quantitative","scale":{"domain":[1.5,2.4],"range":[400,904],"nice":false,"zero":false},"axis":null},
  "y":{"datum":-30.7,"type":"quantitative","scale":{"domain":[0,347],"range":[599.3,82.3],"nice":false,"zero":false},"axis":null}}},
{"data":{"values":[{}]},
 "mark":{"type":"text","text":"m","align":"right","baseline":"alphabetic","fontSize":20,"dx":-95},
 "encoding":{"x":{"datum":2.4,"type":"quantitative","scale":{"domain":[1.5,2.4],"range":[400,904],"nice":false,"zero":false},"axis":null},
  "y":{"datum":-30.7,"type":"quantitative","scale":{"domain":[0,347],"range":[599.3,82.3],"nice":false,"zero":false},"axis":null}}},
{"data":{"values":[{}]},
 "mark":{"type":"rect","fill":"#000","opacity":0.13,"cornerRadius":26,"xOffset":2,"x2Offset":2,"yOffset":5,"y2Offset":5},
 "encoding":{"x":{"datum":1.9066,"type":"quantitative","scale":{"domain":[1.5,2.4],"range":[400,904],"nice":false,"zero":false},"axis":null},"x2":{"datum":2.4911},
  "y":{"datum":360.8,"type":"quantitative","scale":{"domain":[0,347],"range":[599.3,82.3],"nice":false,"zero":false},"axis":null},"y2":{"datum":244.5}}},
{"data":{"values":[{}]},
 "mark":{"type":"rect","fill":"#F2F1D4","stroke":"#4F7FBE","strokeWidth":2.2,"cornerRadius":26},
 "encoding":{"x":{"datum":1.9066,"type":"quantitative","scale":{"domain":[1.5,2.4],"range":[400,904],"nice":false,"zero":false},"axis":null},"x2":{"datum":2.4911},
  "y":{"datum":360.8,"type":"quantitative","scale":{"domain":[0,347],"range":[599.3,82.3],"nice":false,"zero":false},"axis":null},"y2":{"datum":244.5}}},
{"data":{"values":[{}]},
 "mark":{"type":"text","text":"Smearing","align":"center","baseline":"alphabetic","fontSize":37,"font":"DejaVu Sans"},
 "encoding":{"x":{"datum":2.1964,"type":"quantitative","scale":{"domain":[1.5,2.4],"range":[400,904],"nice":false,"zero":false},"axis":null},
  "y":{"datum":325,"type":"quantitative","scale":{"domain":[0,347],"range":[599.3,82.3],"nice":false,"zero":false},"axis":null}}},
{"data":{"values":[{}]},
 "mark":{"type":"text","text":"Δ","align":"right","baseline":"alphabetic","fontSize":40,"font":"Liberation Serif","dx":3},
 "encoding":{"x":{"datum":2.0821,"type":"quantitative","scale":{"domain":[1.5,2.4],"range":[400,904],"nice":false,"zero":false},"axis":null},
  "y":{"datum":299,"type":"quantitative","scale":{"domain":[0,347],"range":[599.3,82.3],"nice":false,"zero":false},"axis":null}}},
{"data":{"values":[{}]},
 "mark":{"type":"text","text":"p","align":"left","baseline":"alphabetic","fontSize":40,"font":"Liberation Serif","fontStyle":"italic","dx":3},
 "encoding":{"x":{"datum":2.0821,"type":"quantitative","scale":{"domain":[1.5,2.4],"range":[400,904],"nice":false,"zero":false},"axis":null},
  "y":{"datum":299,"type":"quantitative","scale":{"domain":[0,347],"range":[599.3,82.3],"nice":false,"zero":false},"axis":null}}},
{"data":{"values":[{}]},
 "mark":{"type":"text","text":"p","align":"center","baseline":"alphabetic","fontSize":40,"font":"Liberation Serif","fontStyle":"italic"},
 "encoding":{"x":{"datum":2.0804,"type":"quantitative","scale":{"domain":[1.5,2.4],"range":[400,904],"nice":false,"zero":false},"axis":null},
  "y":{"datum":253,"type":"quantitative","scale":{"domain":[0,347],"range":[599.3,82.3],"nice":false,"zero":false},"axis":null}}},
{"data":{"values":[{}]},
 "mark":{"type":"text","text":"~ 0.5%","align":"left","baseline":"alphabetic","fontSize":44,"font":"Liberation Serif"},
 "encoding":{"x":{"datum":2.1471,"type":"quantitative","scale":{"domain":[1.5,2.4],"range":[400,904],"nice":false,"zero":false},"axis":null},
  "y":{"datum":274.7,"type":"quantitative","scale":{"domain":[0,347],"range":[599.3,82.3],"nice":false,"zero":false},"axis":null}}},
{"data":{"values":[{}]},
 "mark":{"type":"rule","color":"#000","strokeWidth":2.5},
 "encoding":{"x":{"datum":2.0243,"type":"quantitative","scale":{"domain":[1.5,2.4],"range":[400,904],"nice":false,"zero":false},"axis":null},"x2":{"datum":2.1393},
  "y":{"datum":283.0,"type":"quantitative","scale":{"domain":[0,347],"range":[599.3,82.3],"nice":false,"zero":false},"axis":null}}}
]
}
],
"resolve":{"scale":{"x":"independent","y":"independent"},"axis":{"x":"independent","y":"independent"}}
}
